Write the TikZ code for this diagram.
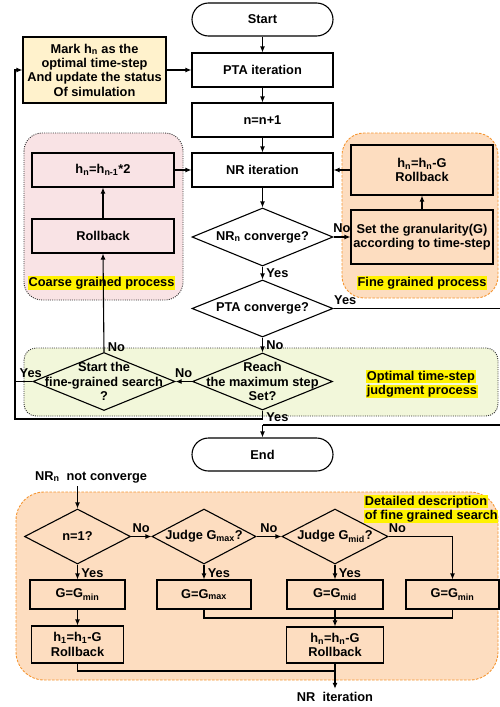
\documentclass[tikz,border=0pt]{standalone}
\usepackage{fontspec}
\setmainfont{Liberation Sans}
\usetikzlibrary{arrows.meta,shapes.geometric}
\definecolor{markfill}{RGB}{255,242,204}
\definecolor{coarsefill}{RGB}{249,227,229}
\definecolor{finefill}{RGB}{253,221,192}
\definecolor{fineline}{RGB}{245,150,50}
\definecolor{judgefill}{RGB}{242,247,218}
\newcommand{\hlite}[1]{{\setlength{\fboxsep}{0.6pt}\colorbox{yellow}{#1}}}

\begin{document}
\begin{tikzpicture}[x=1pt,y=-1pt,
  every node/.style={font=\fontsize{12.8}{14.3}\selectfont\bfseries},
  flow/.style={line width=1.1pt,-{Latex[length=6pt,width=5pt]}},
  wire/.style={line width=1.1pt},
  procbox/.style={draw,line width=1.1pt,align=center,inner sep=1pt,minimum height=34},
  termbox/.style={draw,line width=1.1pt,rounded corners=16.5,minimum width=141,minimum height=33},
  decision/.style={draw,diamond,line width=1.1pt,inner sep=0pt},
  hilite/.style={fill=yellow,inner sep=0.6pt},
  dotgrp/.style={draw=black!80,line width=0.9pt,dash pattern=on 1pt off 1.2pt,rounded corners=18},
  dashgrp/.style={draw=fineline,fill=finefill,line width=0.9pt,dash pattern=on 2.5pt off 1.5pt,rounded corners=22}]
\useasboundingbox (0,0) rectangle (500,707);
\draw[dotgrp,fill=coarsefill] (24,133) rectangle (183,300);
\draw[dashgrp] (342,133) rectangle (498,298);
\draw[dotgrp,fill=judgefill,rounded corners=12] (24,348) rectangle (498,416);
\draw[dashgrp,rounded corners=28] (16,492) rectangle (498,680);
\node[termbox] (start) at (262.5,19.5) {Start};
\node[procbox,minimum width=141] (pta) at (262.5,70) {PTA iteration};
\node[procbox,minimum width=141] (nn) at (262.5,120) {n=n+1};
\node[procbox,minimum width=141] (nr) at (262.5,170) {NR iteration};
\node[procbox,fill=markfill,minimum width=143,minimum height=66] (mark) at (94.5,70) {Mark h\textsubscript{n} as the\\optimal time-step\\And update the status\\Of simulation};
\node[procbox,fill=coarsefill,minimum width=142] (hdouble) at (103,170) {h\textsubscript{n}=h\textsubscript{n-1}*2};
\node[procbox,fill=coarsefill,minimum width=142] (rollc) at (103,236) {Rollback};
\node[procbox,fill=finefill,minimum width=142,minimum height=50] (hminus) at (422,170) {h\textsubscript{n}=h\textsubscript{n}-G\\Rollback};
\node[procbox,fill=finefill,minimum width=142,minimum height=54] (setg) at (422,237) {Set the granularity(G)\\according to time-step};
\node[decision,minimum width=141,minimum height=58,label={center:NR\textsubscript{n} converge?}] (nrconv) at (262.5,237) {};
\node[decision,minimum width=141,minimum height=57,label={center:PTA converge?}] (ptaconv) at (262.5,308.5) {};
\node[decision,minimum width=140,minimum height=57,label={[align=center]center:{Reach\\the maximum step\\Set?}}] (reach) at (262.5,381.5) {};
\node[decision,minimum width=142,minimum height=58,label={[align=center]center:{Start the\\fine-grained search\\?}}] (startfg) at (104,381.5) {};
\node[termbox] (end) at (262.5,454.5) {End};
\node[hilite] (coarselbl) at (101.5,283) {Coarse grained process};
\node[hilite] (finelbl) at (422,283) {Fine grained process};
\node[align=left,anchor=west,inner sep=0pt] (judgelbl) at (366,384) {\hlite{Optimal time-step}\\\hlite{judgment process}};
\coordinate (loopbl) at (15,419);
\coordinate (rcorner) at (501,425);
\coordinate (joinend) at (262.5,425);
\draw[flow] (start) -- (pta);
\draw[flow] (pta) -- (nn);
\draw[flow] (nn) -- (nr);
\draw[flow] (nr) -- (nrconv);
\draw[flow] (nrconv) -- node[right,pos=0.55] (yes1) {Yes} (ptaconv);
\draw[flow] (ptaconv) -- node[right,pos=0.5] (no1) {No} (reach);
\draw[wire] (ptaconv.east) -- node[above,pos=0.07] (yes2) {Yes} (ptaconv.east -| rcorner) -- (rcorner) -- (joinend);
\draw[flow] (joinend) -- (end);
\draw[flow] (reach.west) -- node[above] (no2) {No} (startfg.east);
\draw[flow] (reach.south) -- node[right,pos=0.8] (yes3) {Yes} (reach.south |- loopbl) -- (loopbl) |- (mark.west);
\draw[wire] (startfg.west) -- node[above,pos=0.1] (yes4) {Yes} (startfg.west -| loopbl);
\draw[flow] (startfg.north) -- node[right,pos=0.05] (no3) {No} (rollc.south);
\draw[flow] (rollc) -- (hdouble);
\draw[flow] (hdouble) -- (nr);
\draw[flow] (mark) -- (pta);
\draw[flow] (nrconv.east) -- node[above] (no4) {No} (setg.west);
\draw[flow] (setg) -- (hminus);
\draw[flow] (hminus) -- (nr);
\node (notconv) at (91,477) {NR\textsubscript{n}~ not converge};
\node[align=left,anchor=west,inner sep=0pt] (detaillbl) at (364,509) {\hlite{Detailed description}\\\hlite{of fine grained search}};
\node[decision,minimum width=106,minimum height=55,label={center:n=1?}] (n1) at (77.5,536.5) {};
\node[decision,minimum width=104,minimum height=55,label={center:Judge G\textsubscript{max}?}] (gmax) at (204,536.5) {};
\node[decision,minimum width=106,minimum height=55,label={center:Judge G\textsubscript{mid}?}] (gmid) at (335,536.5) {};
\node[procbox,fill=finefill,minimum width=95,minimum height=29] (gmin1) at (77.5,594.5) {G=G\textsubscript{min}};
\node[procbox,fill=finefill,minimum width=94,minimum height=29] (gmaxb) at (204,594.5) {G=G\textsubscript{max}};
\node[procbox,fill=finefill,minimum width=96,minimum height=29] (gmidb) at (335,594.5) {G=G\textsubscript{mid}};
\node[procbox,fill=finefill,minimum width=93,minimum height=29] (gmin2) at (452.5,594.5) {G=G\textsubscript{min}};
\node[procbox,fill=finefill,minimum width=92,minimum height=37] (h1) at (77.5,644.5) {h\textsubscript{1}=h\textsubscript{1}-G\\Rollback};
\node[procbox,fill=finefill,minimum width=97,minimum height=36] (hnb) at (335,645) {h\textsubscript{n}=h\textsubscript{n}-G\\Rollback};
\node (nrnext) at (335,697) {NR~ iteration};
\coordinate (merge) at (335,618);
\coordinate (tail) at (335,671);
\draw[flow] (notconv.south -| n1.north) -- (n1.north);
\draw[flow] (n1.east) -- node[above] (no5) {No} (gmax.west);
\draw[flow] (gmax.east) -- node[above] (no6) {No} (gmid.west);
\draw[flow] (gmid.east) -| node[above,pos=0.07] (no7) {No} (gmin2.north);
\draw[flow] (n1.south) -- node[right,pos=0.55] (yes5) {Yes} (gmin1.north);
\draw[flow] (gmax.south) -- node[right,pos=0.55] (yes6) {Yes} (gmaxb.north);
\draw[flow] (gmid.south) -- node[right,pos=0.55] (yes7) {Yes} (gmidb.north);
\draw[flow] (gmin1) -- (h1);
\draw[wire] (gmaxb.south) |- (merge);
\draw[wire] (gmin2.south) |- (merge);
\draw[flow] (gmidb) -- (hnb);
\draw[wire] (h1.south) |- (tail);
\draw[flow] (hnb.south) -- (nrnext.north);
\end{tikzpicture}
\end{document}
